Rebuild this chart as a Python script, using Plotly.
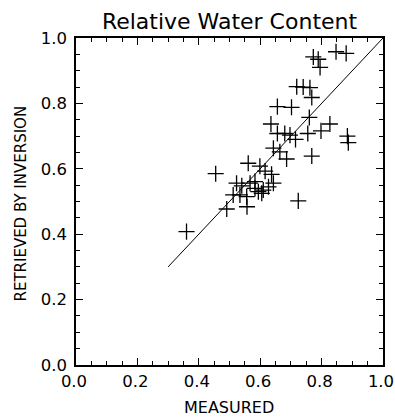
import plotly.graph_objects as go

measured = [0.773, 0.789, 0.795, 0.847, 0.880,
            0.719, 0.740, 0.762, 0.768, 0.656, 0.702, 0.760, 0.827, 0.635,
            0.656, 0.680, 0.697, 0.715, 0.755, 0.798, 0.884, 0.887,
            0.643, 0.664, 0.686, 0.768, 0.561, 0.599, 0.616, 0.637,
            0.643, 0.627, 0.523, 0.540, 0.567, 0.583, 0.512, 0.534,
            0.556, 0.583, 0.594, 0.610, 0.605, 0.491, 0.557, 0.724,
            0.455, 0.360]
retrieved = [0.942, 0.935, 0.910, 0.958, 0.953,
             0.851, 0.850, 0.848, 0.818, 0.790, 0.788, 0.757, 0.737, 0.737,
             0.708, 0.708, 0.703, 0.690, 0.708, 0.716, 0.700, 0.680,
             0.663, 0.652, 0.630, 0.639, 0.617, 0.608, 0.593, 0.583,
             0.556, 0.545, 0.556, 0.548, 0.556, 0.561, 0.520, 0.520,
             0.515, 0.540, 0.530, 0.535, 0.525, 0.477, 0.484, 0.502,
             0.585, 0.408]
line_x = [0.3, 1.0]
line_y = [0.3, 1.0]
tick_vals = [0.0, 0.2, 0.4, 0.6, 0.8, 1.0]
tick_text = ["0.0", "0.2", "0.4", "0.6", "0.8", "1.0"]

FONT = "DejaVu Sans"
W, H = 395, 419
L, R, T, B = 76, 12, 38, 54

fig = go.Figure()
fig.add_trace(go.Scatter(x=line_x, y=line_y, mode="lines",
                         line=dict(color="black", width=1), showlegend=False))
fig.add_trace(go.Scatter(x=measured, y=retrieved, mode="markers",
                         marker=dict(symbol="cross-thin", size=11.5,
                                     line=dict(color="black", width=1.3)),
                         showlegend=False))

axis_common = dict(range=[0, 1], tickvals=tick_vals, ticktext=tick_text,
                   ticks="inside", ticklen=7, tickwidth=1.2, tickcolor="black",
                   showline=True, linecolor="black", linewidth=1.5,
                   mirror="allticks", showgrid=False, zeroline=False,
                   automargin=False, ticklabeloverflow="allow",
                   tickfont=dict(family=FONT, size=16.5, color="black"),
                   minor=dict(dtick=0.05, ticks="inside", ticklen=4,
                              tickwidth=1.1, tickcolor="black", showgrid=False))

fig.update_layout(
    width=W, height=H,
    margin=dict(l=L, r=R, t=T, b=B, autoexpand=False),
    paper_bgcolor="white", plot_bgcolor="white",
    title=dict(text="Relative Water Content", x=229.5/W, xanchor="center",
               y=1 - 21/H, yanchor="middle", yref="container",
               font=dict(family=FONT, size=22, color="black")),
    xaxis=dict(**axis_common, ticklabelshift=-2),
    yaxis=dict(**axis_common, ticklabelstandoff=4),
    annotations=[
        dict(text="MEASURED", xref="paper", yref="paper",
             x=(228.5 - L) / (W - L - R), y=-(407 - (H - B)) / (H - T - B),
             xanchor="center", yanchor="middle", showarrow=False,
             font=dict(family=FONT, size=16, color="black")),
        dict(text="RETRIEVED BY INVERSION", xref="paper", yref="paper",
             x=-(L - 20) / (W - L - R), y=((H - B) - 203.5) / (H - T - B),
             xanchor="center", yanchor="middle", showarrow=False, textangle=-90,
             font=dict(family=FONT, size=15, color="black")),
    ],
)

fig.write_html("out.html")
